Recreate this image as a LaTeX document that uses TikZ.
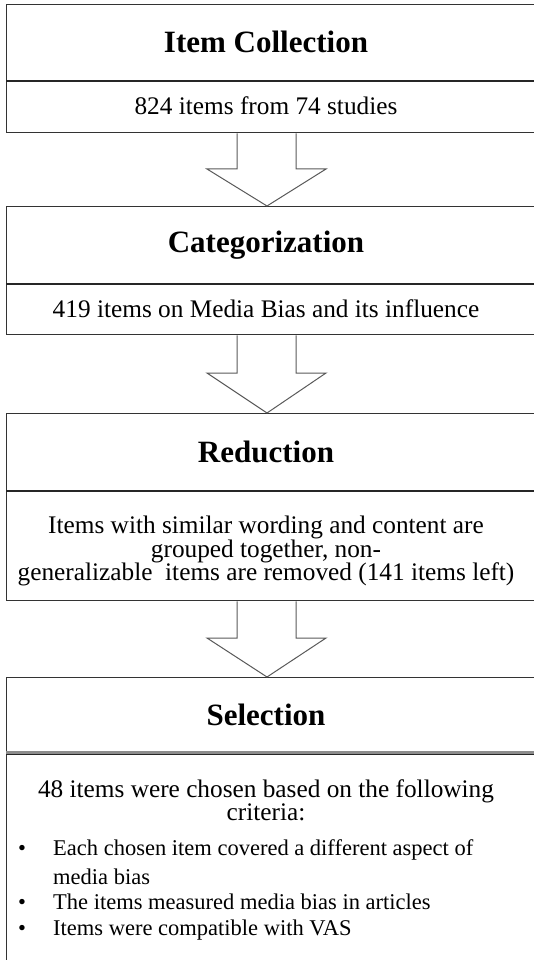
\documentclass[tikz,border=0pt]{standalone}
\usepackage{fontspec}
\setmainfont{Liberation Serif}
\usetikzlibrary{calc}
\begin{document}
\begin{tikzpicture}[x=1pt,y=-1pt,
  boxframe/.style={draw=black!80, line width=1.3pt, rectangle, inner sep=0pt, anchor=north west, minimum width=534pt},
  divider/.style={draw=black!85, line width=2pt},
  blockarrow/.style={draw=black!65, line width=1pt, line join=miter},
  headtext/.style={font=\rmfamily\fontsize{31}{36}\selectfont\bfseries, inner sep=0pt},
  bodytext/.style={font=\rmfamily\fontsize{25.3}{23.5}\selectfont, inner sep=0pt, align=center},
  bullettext/.style={font=\rmfamily\fontsize{22.5}{27}\selectfont, inner sep=0pt, anchor=base west}
]
\useasboundingbox (0,0) rectangle (534,960);
\clip (0,0) rectangle (534,960);

% box 1
\node[boxframe, minimum height=76pt] (h1) at (6,4) {};
\node[boxframe, minimum height=52pt] (b1) at (6,80) {};
\draw[divider] (h1.south west) -- (h1.south east);
\node[headtext] (t1) at (266,42) {Item Collection};
\node[bodytext] (s1) at (266,106) {824 items from 74 studies};

% box 2
\node[boxframe, minimum height=77pt] (h2) at (6,206) {};
\node[boxframe, minimum height=51pt] (b2) at (6,283) {};
\draw[divider] (h2.south west) -- (h2.south east);
\node[headtext] (t2) at (266,245) {Categorization};
\node[bodytext] (s2) at (266,309) {419 items on Media Bias and its influence};

% box 3
\node[boxframe, minimum height=77pt] (h3) at (6,413) {};
\node[boxframe, minimum height=110pt] (b3) at (6,490) {};
\draw[divider] (h3.south west) -- (h3.south east);
\node[headtext] (t3) at (266,452) {Reduction};
\node[bodytext] (s3) at (266,551) {Items with similar wording and content are\\grouped together, non-\\generalizable\ \ items are removed (141 items left)};

% box 4
\node[boxframe, minimum height=75pt] (h4) at (6,677) {};
\node[boxframe, minimum height=230pt] (b4) at (6,752) {};
\draw[draw=black!45, line width=2.5pt] ($(h4.south west)+(0,-1)$) -- ($(h4.south east)+(0,-1)$);
\draw[draw=black!85, line width=1pt] ($(h4.south west)+(0,1)$) -- ($(h4.south east)+(0,1)$);
\node[headtext] (t4) at (266,715) {Selection};
\node[bodytext, anchor=base] (s4a) at (266,797) {48 items were chosen based on the following};
\node[bodytext, anchor=base] (s4b) at (266,820) {criteria:};
\node[bullettext] (k1) at (18,855) {•};
\node[bullettext] (l1) at (53,855) {Each chosen item covered a different aspect of};
\node[bullettext] (l1b) at (53,884) {media bias};
\node[bullettext] (k2) at (18,909) {•};
\node[bullettext] (l2) at (53,909) {The items measured media bias in articles};
\node[bullettext] (k3) at (18,935) {•};
\node[bullettext] (l3) at (53,935) {Items were compatible with VAS};

% arrows
\draw[blockarrow] (237,0 |- b1.south) -- (237,169) -- (207,169) -- (267,0 |- h2.north) -- (326,169) -- (296,169) -- (296,0 |- b1.south);
\draw[blockarrow] (237,0 |- b2.south) -- (237,373) -- (207,373) -- (267,0 |- h3.north) -- (326,373) -- (296,373) -- (296,0 |- b2.south);
\draw[blockarrow] (237,0 |- b3.south) -- (237,638) -- (207,638) -- (267,0 |- h4.north) -- (326,638) -- (296,638) -- (296,0 |- b3.south);
\end{tikzpicture}
\end{document}
